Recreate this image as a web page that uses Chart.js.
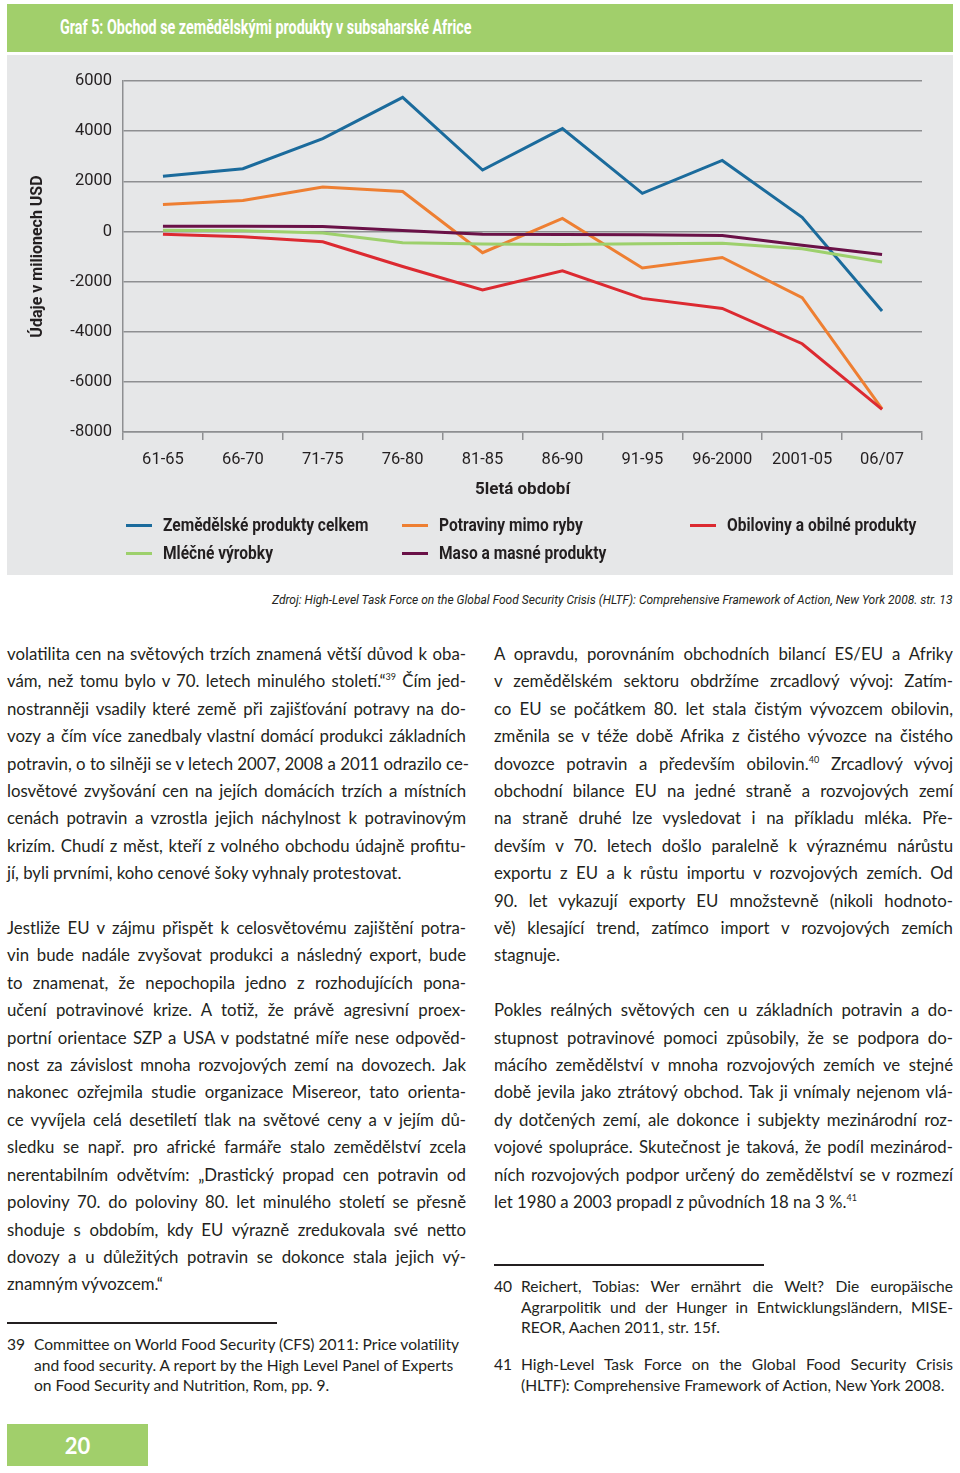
<!DOCTYPE html>
<html lang="cs">
<head>
<meta charset="utf-8">
<script src="https://cdn.jsdelivr.net/npm/chart.js@4/dist/chart.umd.min.js"></script>
<style>
  html, body { margin: 0; padding: 0; background: #fff; }
  body { width: 960px; height: 1473px; position: relative; overflow: hidden; color: #231f20; }
  .narrow { font-family: Roboto, "Liberation Sans", sans-serif; }
  .cond { display: inline-block; transform: scaleX(0.84); transform-origin: left center; white-space: nowrap; }
  #head { position: absolute; left: 7px; top: 4px; width: 946px; height: 48px; background: #a1cf6b; }
  #head span { position: absolute; left: 53px; top: 12px; color: #fff; font-weight: bold; font-size: 19.5px; transform: scaleX(0.735); }
  #panel { position: absolute; left: 7px; top: 55px; width: 946px; height: 520px; background: #e6e7e8; }
  #chart { position: absolute; left: 0; top: 0; }
  #legend { position: absolute; left: 0; top: 0; width: 946px; height: 520px; pointer-events: none; }
  .lg { position: absolute; font-weight: bold; font-size: 18.5px; white-space: nowrap; line-height: 22px; }
  .lg i { position: absolute; top: 10px; width: 26px; height: 3px; }
  #src { position: absolute; right: 8px; top: 591px; font-style: italic; font-size: 13.5px; white-space: nowrap;
         transform: scaleX(0.89); transform-origin: right center; }
  .col { position: absolute; width: 459px; font-family: Lato, "Noto Sans", sans-serif; font-size: 16.8px; line-height: 27.4px; }
  .col div { text-align: justify; text-align-last: justify; white-space: nowrap; }
  .col div.e { text-align-last: left; }
  .col .gap { height: 27.4px; }
  sup { font-size: 9px; vertical-align: 7px; line-height: 0; }
  .rule { position: absolute; height: 2px; background: #231f20; }
  .fn { position: absolute; width: 459px; font-family: Lato, "Noto Sans", sans-serif; font-size: 15.6px; line-height: 20.6px; }
  .fn b { position: absolute; left: 0; font-weight: normal; }
  .fn p { margin: 0 0 0 27px; }
  .fn p span { display: block; white-space: nowrap; }
  .fn.j p span { text-align: justify; text-align-last: justify; }
  .fn.j p span.e { text-align-last: left; }
  #page { position: absolute; left: 7px; top: 1424px; width: 141px; height: 42px; background: #a1cf6b; color: #fff;
          font-family: Lato, "Noto Sans", sans-serif; font-weight: bold; font-size: 22px; line-height: 43px; text-align: center; }
</style>
</head>
<body>
<div id="head" class="narrow"><span class="cond">Graf 5: Obchod se zemědělskými produkty v subsaharské Africe</span></div>
<div id="panel">
  <canvas id="chart" width="946" height="520"></canvas>
  <div id="legend" class="narrow"></div>
</div>
<div id="src" class="narrow">Zdroj: High-Level Task Force on the Global Food Security Crisis (HLTF): Comprehensive Framework of Action, New York 2008. str. 13</div>

<div class="col" style="left:7px; top:640px;">
  <div>volatilita cen na světových trzích znamená větší důvod k oba-</div>
  <div>vám, než tomu bylo v 70. letech minulého století.“<sup>39</sup> Čím jed-</div>
  <div>nostranněji vsadily které země při zajišťování potravy na do-</div>
  <div>vozy a čím více zanedbaly vlastní domácí produkci základních</div>
  <div>potravin, o to silněji se v letech 2007, 2008 a 2011 odrazilo ce-</div>
  <div>losvětové zvyšování cen na jejích domácích trzích a místních</div>
  <div>cenách potravin a vzrostla jejich náchylnost k potravinovým</div>
  <div>krizím. Chudí z měst, kteří z volného obchodu údajně profitu-</div>
  <div class="e">jí, byli prvními, koho cenové šoky vyhnaly protestovat.</div>
  <div class="gap"></div>
  <div>Jestliže EU v zájmu přispět k celosvětovému zajištění potra-</div>
  <div>vin bude nadále zvyšovat produkci a následný export, bude</div>
  <div>to znamenat, že nepochopila jedno z rozhodujících pona-</div>
  <div>učení potravinové krize. A totiž, že právě agresivní proex-</div>
  <div>portní orientace SZP a USA v podstatné míře nese odpověd-</div>
  <div>nost za závislost mnoha rozvojových zemí na dovozech. Jak</div>
  <div>nakonec ozřejmila studie organizace Misereor, tato orienta-</div>
  <div>ce vyvíjela celá desetiletí tlak na světové ceny a v jejím dů-</div>
  <div>sledku se např. pro africké farmáře stalo zemědělství zcela</div>
  <div>nerentabilním odvětvím: „Drastický propad cen potravin od</div>
  <div>poloviny 70. do poloviny 80. let minulého století se přesně</div>
  <div>shoduje s obdobím, kdy EU výrazně zredukovala své netto</div>
  <div>dovozy a u důležitých potravin se dokonce stala jejich vý-</div>
  <div class="e">znamným vývozcem.“</div>
</div>

<div class="col" style="left:494px; top:640px;">
  <div>A opravdu, porovnáním obchodních bilancí ES/EU a Afriky</div>
  <div>v zemědělském sektoru obdržíme zrcadlový vývoj: Zatím-</div>
  <div>co EU se počátkem 80. let stala čistým vývozcem obilovin,</div>
  <div>změnila se v téže době Afrika z čistého vývozce na čistého</div>
  <div>dovozce potravin a především obilovin.<sup>40</sup> Zrcadlový vývoj</div>
  <div>obchodní bilance EU na jedné straně a rozvojových zemí</div>
  <div>na straně druhé lze vysledovat i na příkladu mléka. Pře-</div>
  <div>devším v 70. letech došlo paralelně k výraznému nárůstu</div>
  <div>exportu z EU a k růstu importu v rozvojových zemích. Od</div>
  <div>90. let vykazují exporty EU množstevně (nikoli hodnoto-</div>
  <div>vě) klesající trend, zatímco import v rozvojových zemích</div>
  <div class="e">stagnuje.</div>
  <div class="gap"></div>
  <div>Pokles reálných světových cen u základních potravin a do-</div>
  <div>stupnost potravinové pomoci způsobily, že se podpora do-</div>
  <div>mácího zemědělství v mnoha rozvojových zemích ve stejné</div>
  <div>době jevila jako ztrátový obchod. Tak ji vnímaly nejenom vlá-</div>
  <div>dy dotčených zemí, ale dokonce i subjekty mezinárodní roz-</div>
  <div>vojové spolupráce. Skutečnost je taková, že podíl mezinárod-</div>
  <div>ních rozvojových podpor určený do zemědělství se v rozmezí</div>
  <div class="e">let 1980 a 2003 propadl z původních 18 na 3 %.<sup>41</sup></div>
</div>

<div class="rule" style="left:7px; top:1322px; width:270px;"></div>
<div class="fn" style="left:7px; top:1334px;">
  <b>39</b>
  <p><span>Committee on World Food Security (CFS) 2011: Price volatility</span>
     <span>and food security. A report by the High Level Panel of Experts</span>
     <span>on Food Security and Nutrition, Rom, pp. 9.</span></p>
</div>

<div class="rule" style="left:494px; top:1264px; width:270px;"></div>
<div class="fn j" style="left:494px; top:1276px;">
  <b>40</b>
  <p><span>Reichert, Tobias: Wer ernährt die Welt? Die europäische</span>
     <span>Agrarpolitik und der Hunger in Entwicklungsländern, MISE-</span>
     <span class="e">REOR, Aachen 2011, str. 15f.</span></p>
</div>
<div class="fn j" style="left:494px; top:1354px;">
  <b>41</b>
  <p><span>High-Level Task Force on the Global Food Security Crisis</span>
     <span class="e">(HLTF): Comprehensive Framework of Action, New York 2008.</span></p>
</div>

<div id="page">20</div>

<script>
// 5leta obdobi
const periods = ['61-65', '66-70', '71-75', '76-80', '81-85', '86-90', '91-95', '96-2000', '2001-05', '06/07'];

// mil. USD
const agriTotal = [2200, 2500, 3700, 5350, 2450, 4100, 1520, 2830, 560, -3170];
const foodNoFish = [1070, 1230, 1770, 1590, -850, 520, -1460, -1040, -2640, -7080];
const cereals = [-110, -210, -410, -1400, -2330, -1570, -2670, -3070, -4480, -7100];
const dairy = [50, 30, -60, -450, -500, -520, -490, -470, -690, -1220];
const meat = [210, 210, 200, 40, -110, -120, -130, -160, -550, -920];

const yMin = -8000, yMax = 6000, yStep = 2000;

// lx/ly = pozice polozky legendy v panelu
const series = [
  { name: 'Zemědělské produkty celkem', data: agriTotal, color: '#1b6b9c', lx: 119, ly: 459 },
  { name: 'Potraviny mimo ryby', data: foodNoFish, color: '#ee7f32', lx: 395, ly: 459 },
  { name: 'Obiloviny a obilné produkty', data: cereals, color: '#dc2a31', lx: 683, ly: 459 },
  { name: 'Mléčné výrobky', data: dairy, color: '#9dd06c', lx: 119, ly: 487 },
  { name: 'Maso a masné produkty', data: meat, color: '#6a1147', lx: 395, ly: 487 }
];

const fam = 'Roboto, "Liberation Sans", sans-serif';
const ink = '#231f20';
const gridCol = '#8e8f91';

// poradi kresleni: modra nahore
const order = [3, 4, 2, 1, 0];

new Chart(document.getElementById('chart'), {
  type: 'line',
  data: {
    labels: periods,
    datasets: order.map(i => ({
      label: series[i].name,
      data: series[i].data,
      borderColor: series[i].color,
      backgroundColor: series[i].color,
      borderWidth: 3,
      pointRadius: 0,
      tension: 0,
      fill: false
    }))
  },
  options: {
    responsive: false,
    animation: false,
    events: [],
    layout: { padding: { top: 26, right: 31, bottom: 75, left: 0 } },
    plugins: { legend: { display: false }, tooltip: { enabled: false } },
    scales: {
      x: {
        offset: true,
        grid: { offset: true, drawOnChartArea: false, drawTicks: true, tickLength: 8, color: gridCol, lineWidth: 1.5 },
        border: { color: gridCol, width: 1.5 },
        ticks: { color: ink, padding: 10, maxRotation: 0, autoSkip: false, font: { family: fam, size: 16.5 } },
        title: { display: true, text: '5letá období', color: ink, padding: { top: 0, bottom: 0 },
                 font: { family: fam, size: 17, weight: 'bold' } },
        afterFit: s => { s.height = 68; }
      },
      y: {
        min: yMin, max: yMax,
        grid: { drawTicks: false, color: gridCol, lineWidth: 1.5 },
        border: { color: gridCol, width: 1.5 },
        ticks: { stepSize: yStep, color: ink, padding: 11, callback: v => String(v), font: { family: fam, size: 16.5 } },
        title: { display: true, text: 'Údaje v milionech USD', color: ink, padding: { top: 21, bottom: 0 },
                 font: { family: fam, size: 16, weight: 'bold' } },
        afterFit: s => { s.width = 116; }
      }
    }
  }
});

// legenda
const legend = document.getElementById('legend');
series.forEach(s => {
  const el = document.createElement('div');
  el.className = 'lg';
  el.style.left = s.lx + 'px';
  el.style.top = s.ly + 'px';
  el.style.paddingLeft = '37px';
  el.innerHTML = '<i style="left:0;background:' + s.color + '"></i><span class="cond">' + s.name + '</span>';
  legend.appendChild(el);
});
</script>
</body>
</html>
